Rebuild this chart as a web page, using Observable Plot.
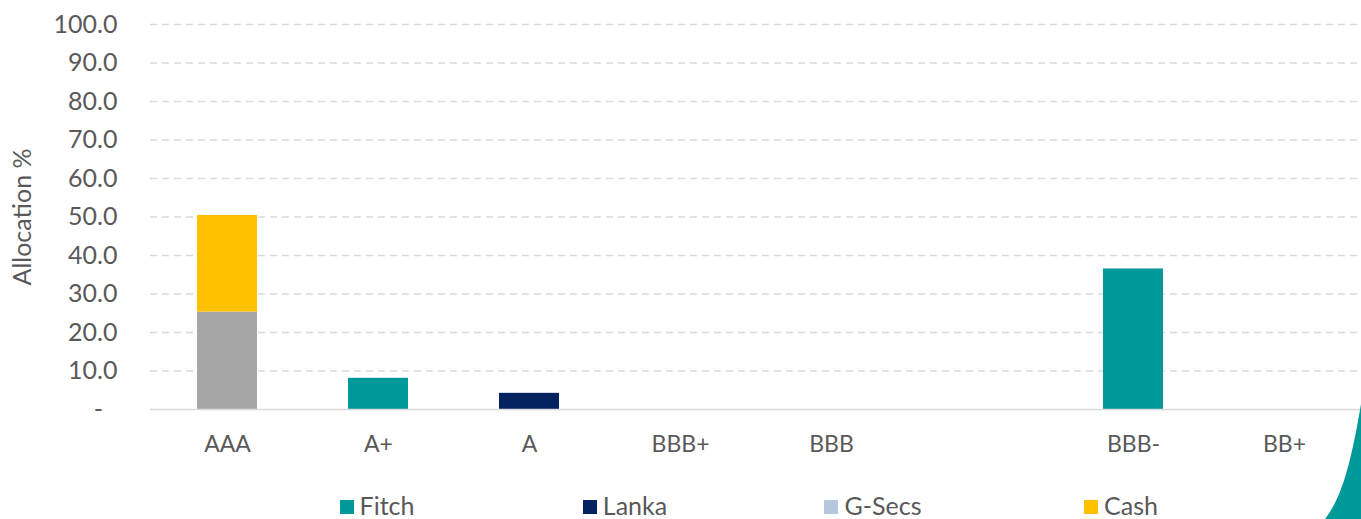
<!DOCTYPE html>
<html>
<head>
<meta charset="utf-8">
<script src="https://cdn.jsdelivr.net/npm/d3@7"></script>
<script src="https://cdn.jsdelivr.net/npm/@observablehq/plot@0.6"></script>
<style>
  html, body { margin: 0; padding: 0; background: #fff; }
  body { width: 1361px; height: 519px; overflow: hidden; position: relative; font-family: Lato, "Open Sans", sans-serif; }
  #chart svg { display: block; }
  #legend { position: absolute; left: 253px; top: 475px; height: 44px; display: flex; }
  .item { width: 248px; height: 44px; display: flex; justify-content: center; align-items: flex-start; color: #595959; font-size: 25px; line-height: 25px; padding-top: 18px; box-sizing: border-box; }
  .sw { width: 14px; height: 14px; margin-right: 6px; margin-top: 7px; display: inline-block; }
  #deco { position: absolute; right: 0; bottom: 0; }
</style>
</head>
<body>
<div id="chart"></div>
<div id="legend"></div>
<svg id="deco" width="40" height="115" viewBox="0 0 40 115"><path d="M4 115 C 20 95, 30 60, 40 0 L 40 115 Z" fill="#009999"/></svg>
<script>
const categories = ["AAA", "A+", "A", "BBB+", "BBB", " ", "BBB-", "BB+"];
const seriesNames = ["G-Secs", "Cash", "Fitch", "Lanka"];
const fitch = [0, 8.1, 0, 0, 0, 0, 36.5, 0];
const lanka = [0, 0, 4.2, 0, 0, 0, 0, 0];
const gsecs = [25.3, 0, 0, 0, 0, 0, 0, 0];
const cash  = [25.1, 0, 0, 0, 0, 0, 0, 0];
const barColors = {"Fitch": "#009999", "Lanka": "#042160", "G-Secs": "#A6A6A6", "Cash": "#FFC000"};
const legendNames = ["Fitch", "Lanka", "G-Secs", "Cash"];
const legendColors = ["#009999", "#042160", "#B4C7DC", "#FFC000"];
const yTicks = [0, 10, 20, 30, 40, 50, 60, 70, 80, 90, 100];

const seriesValues = {"Fitch": fitch, "Lanka": lanka, "G-Secs": gsecs, "Cash": cash};
const data = [];
for (const s of seriesNames) {
  categories.forEach((c, i) => {
    if (seriesValues[s][i] > 0) data.push({category: c, series: s, value: seriesValues[s][i]});
  });
}

const chart = Plot.plot({
  width: 1361,
  height: 475,
  marginLeft: 150,
  marginRight: 0,
  marginTop: 24,
  marginBottom: 66,
  style: {fontFamily: "Lato, 'Open Sans', sans-serif", color: "#595959", background: "#fff"},
  x: {domain: categories, paddingInner: 0.6, paddingOuter: 0.3, align: 0.5},
  y: {domain: [0, 100]},
  color: {domain: seriesNames, range: seriesNames.map(s => barColors[s])},
  marks: [
    Plot.gridY(yTicks.filter(d => d > 0), {stroke: "#D9D9D9", strokeOpacity: 1, strokeWidth: 1.5, strokeDasharray: "7,5"}),
    Plot.barY(data, {x: "category", y: "value", fill: "series", order: seriesNames}),
    Plot.ruleY([0], {stroke: "#D9D9D9", strokeWidth: 1.5}),
    Plot.axisY({ticks: yTicks, tickSize: 0, tickPadding: 33, fontSize: 25,
      tickFormat: d => d === 0 ? "-\u2007" : d.toFixed(1),
      label: "Allocation %", labelAnchor: "center", labelArrow: "none", labelOffset: 137}),
    Plot.axisX({tickSize: 0, tickPadding: 26, fontSize: 23, label: null})
  ]
});
document.getElementById("chart").appendChild(chart);

const legend = document.getElementById("legend");
legendNames.forEach((n, i) => {
  const it = document.createElement("div");
  it.className = "item";
  it.innerHTML = `<span class="sw" style="background:${legendColors[i]}"></span><span>${n}</span>`;
  legend.appendChild(it);
});
</script>
</body>
</html>
